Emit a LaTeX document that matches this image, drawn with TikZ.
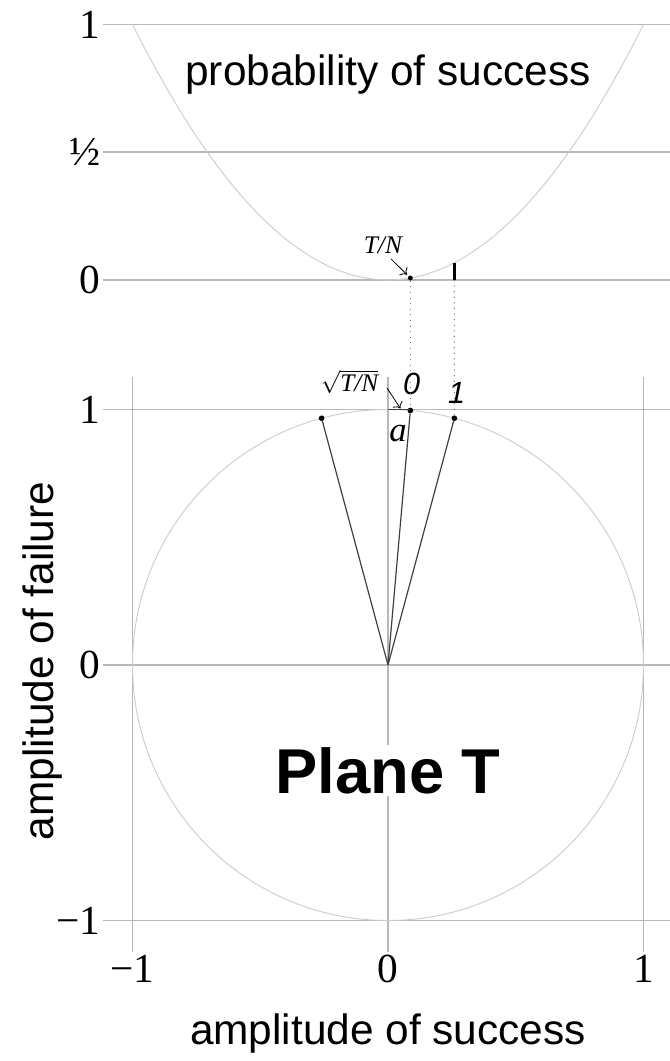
\documentclass[tikz,border=0pt]{standalone}
\usepackage{fontspec}
\setmainfont{Liberation Serif}
\setsansfont{Liberation Sans}
\usetikzlibrary{positioning,arrows.meta}

\tikzset{
    gridline/.style={draw=black!28, line width=1.2pt},
    faint/.style={draw=black!20, line width=0.7pt},
    vec/.style={draw=black!75, line width=0.9pt},
    dot/.style={circle, fill, inner sep=1.5pt},
    drop/.style={draw=black!55, line width=0.8pt, dash pattern=on 0.8pt off 3.4pt},
    pointer/.style={-{To[scale=1.4]}, draw=black, line width=0.6pt, shorten >=1.5pt},
    num/.style={font=\fontsize{31}{31}\selectfont, inner sep=0pt},
    axislabel/.style={font=\sffamily\fontsize{31.8}{31.8}\selectfont, inner sep=0pt},
    steplabel/.style={font=\sffamily\itshape\fontsize{23}{23}\selectfont, inner sep=0pt},
    small/.style={font=\itshape\fontsize{19}{19}\selectfont, inner sep=0pt}
}

\begin{document}
\begin{tikzpicture}[x=6.735cm, y=6.735cm]
        \useasboundingbox (-1.5186,-1.5499) rectangle (1.1037,2.6027);

        % Upper plot: probability of success
        \draw[gridline] (-1.115,1.507) -- (1.11,1.507);
        \draw[gridline] (-1.115,2.007) -- (1.11,2.007);
        \draw[gridline] (-1.115,2.507) -- (1.11,2.507);
        \node[num, anchor=east] (py0)    at (-1.125,1.507) {0};
        \node[num, anchor=east] (pyhalf) at (-1.125,2.007) {½};
        \node[num, anchor=east] (py1)    at (-1.125,2.507) {1};
        \draw[faint] plot[domain=-1:1, samples=80] (\x, {1.507+\x*\x});
        \node[axislabel, anchor=base] (prob) at (0,2.270) {probability of success};

        % Lower plot: grid and unit circle
        \foreach \v in {-1,0,1} {
            \draw[gridline] (-1.115,\v) -- (1.11,\v);
            \draw[gridline] (\v,-1.123) -- (\v,1.127);
        }
        \draw[faint] (0,0) circle (1);
        \node[num, anchor=east] (ay1)  at (-1.125,1)  {1};
        \node[num, anchor=east] (ay0)  at (-1.125,0)  {0};
        \node[num, anchor=east] (aym)  at (-1.125,-1) {−1};
        \node[num] (axm) at (-1,-1.19) {−1};
        \node[num] (ax0) at (0,-1.19)  {0};
        \node[num] (ax1) at (1,-1.19)  {1};
        \node[axislabel, anchor=base] (succ) at (0,-1.487) {amplitude of success};
        \node[axislabel, anchor=base, rotate=90] (fail) at (-1.311,0.016) {amplitude of failure};
        \node[font=\sffamily\bfseries\fontsize{47.5}{47.5}\selectfont, fill=white, inner sep=1.5pt, anchor=base] (plane) at (0,-0.501) {Plane T};

        % State vectors
        \coordinate (O) at (0,0);
        \node[dot] (p0) at (84.98:1)  {};
        \node[dot] (p1) at (74.94:1)  {};
        \node[dot] (pm) at (105.06:1) {};
        \draw[vec] (O) -- (p0);
        \draw[vec] (O) -- (p1);
        \draw[vec] (O) -- (pm);
        \node[steplabel] (l0) at (0.093,1.100) {0};
        \node[steplabel] (l1) at (0.269,1.065) {1};

        % Amplitude a
        \coordinate (top0) at (0,1);
        \coordinate (topa) at (0.0875,1);
        \draw[vec] (top0) -- (topa);
        \node[font=\itshape\fontsize{26}{26}\selectfont, inner sep=0pt] (alabel) at (0.039,0.906) {a};
        \node[small] (sq) at (-0.15,1.108) {$\sqrt{\mbox{\itshape T/N}}$};
        \coordinate (sqfrom) at (-0.004,1.084);
        \coordinate (sqto) at (0.049,1.004);
        \draw[pointer, shorten >=0pt] (sqfrom) -- (sqto);

        % Probabilities in the upper plot
        \node[dot, inner sep=1.3pt] (q0) at (0.0875,1.5147) {};
        \coordinate (q1) at (0.2598,1.507);
        \coordinate (q1top) at (0.2598,1.5745);
        \draw[line width=2pt] (q1) -- (q1top);
        \node[small] (tn) at (-0.02,1.644) {T/N};
        \coordinate (tnfrom) at (0.012,1.589);
        \draw[pointer] (tnfrom) -- (q0);

        % Drop lines
        \draw[drop] (q0) -- (p0);
        \draw[drop] (q1) -- (p1);
    \end{tikzpicture}
\end{document}
